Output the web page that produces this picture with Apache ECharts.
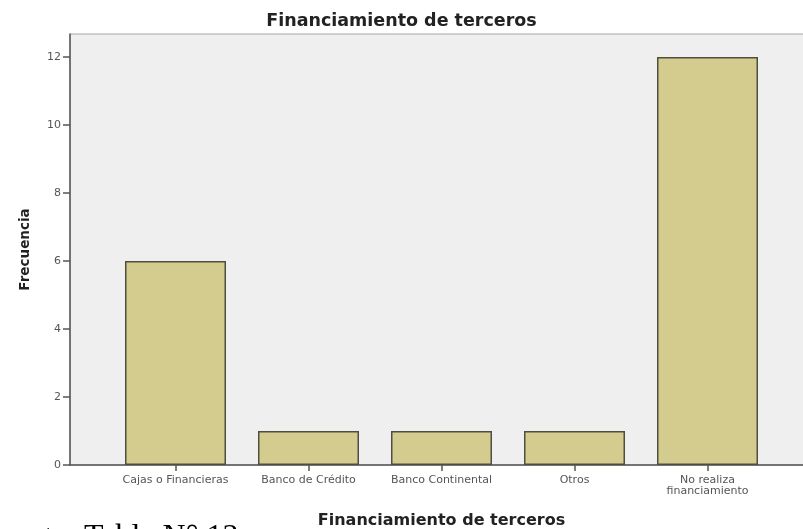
<!DOCTYPE html>
<html>
<head>
<meta charset="utf-8">
<script src="https://cdn.jsdelivr.net/npm/echarts@6/dist/echarts.min.js"></script>
<style>
  html, body { margin: 0; padding: 0; background: #fff; }
  #main { width: 803px; height: 529px; }
</style>
</head>
<body>
<div id="main"></div>
<script>
var categories = ['Cajas o Financieras', 'Banco de Crédito', 'Banco Continental', 'Otros', 'No realiza\nfinanciamiento'];
var frecuencia = [6, 1, 1, 1, 12];
var yTicks = [0, 2, 4, 6, 8, 10, 12];

var myChart = echarts.init(document.getElementById('main'));

var option = {
    animation: false,
    title: {
        text: 'Financiamiento de terceros',
        left: 'center',
        top: 7,
        textStyle: { fontFamily: 'DejaVu Sans', fontSize: 17.5, fontWeight: 'bold', color: '#222' }
    },
    grid: [
        // marco gris con eje Y
        { left: 70, right: -12, top: 34, bottom: 64, outerBoundsMode: 'none', show: true, backgroundColor: '#EFEFEF', borderColor: '#A8A8A8', borderWidth: 1 },
        // zona de barras
        { left: 109, width: 665, top: 34, bottom: 64, outerBoundsMode: 'none' }
    ],
    xAxis: [
        {
            gridIndex: 0, type: 'value', min: 0, max: 1,
            axisLine: { show: true, lineStyle: { color: '#555', width: 1.5 } },
            axisTick: { show: false }, axisLabel: { show: false }, splitLine: { show: false }
        },
        {
            gridIndex: 1, type: 'category', data: categories,
            name: 'Financiamiento de terceros', nameLocation: 'middle', nameGap: 48,
            nameTextStyle: { fontFamily: 'DejaVu Sans', fontSize: 16, fontWeight: 'bold', color: '#222' },
            axisLine: { show: false },
            axisTick: { show: true, alignWithLabel: true, length: 6, lineStyle: { color: '#555', width: 1.5 } },
            axisLabel: { interval: 0, fontFamily: 'DejaVu Sans', fontSize: 11, color: '#555', margin: 10, lineHeight: 11 }
        }
    ],
    yAxis: [
        {
            gridIndex: 0, type: 'value', min: 0, max: 431 / 34,
            name: 'Frecuencia', nameLocation: 'middle', nameGap: 38,
            nameTextStyle: { fontFamily: 'DejaVu Sans', fontSize: 13.5, fontWeight: 'bold', color: '#222' },
            axisLine: { show: true, lineStyle: { color: '#555', width: 1.5 } },
            axisTick: { show: true, length: 7, customValues: yTicks, lineStyle: { color: '#555', width: 1.5 } },
            axisLabel: { customValues: yTicks, fontFamily: 'DejaVu Sans', fontSize: 11, color: '#555', margin: 9 },
            splitLine: { show: false }
        },
        {
            gridIndex: 1, type: 'value', min: 0, max: 431 / 34, show: false
        }
    ],
    series: [{
        type: 'bar',
        xAxisIndex: 1,
        yAxisIndex: 1,
        data: frecuencia,
        barWidth: 101,
        itemStyle: { color: '#D3CC8E', borderColor: '#4E4E40', borderWidth: 1.5 }
    }],
    graphic: [{
        type: 'text',
        left: -20,
        top: 522,
        style: { text: 'Fuente: Tabla N° 13', font: '32px "Liberation Serif"', fill: '#000' }
    }]
};

myChart.setOption(option);
</script>
</body>
</html>
